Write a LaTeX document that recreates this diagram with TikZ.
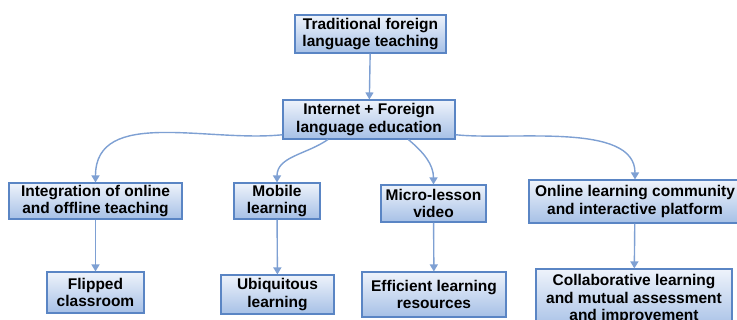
\documentclass[tikz,border=0pt]{standalone}
\usepackage{fontspec}
\setmainfont{Liberation Sans}
\usetikzlibrary{arrows.meta, shadows}

\definecolor{boxline}{HTML}{5A85C4}
\definecolor{boxtop}{HTML}{EEF3FB}
\definecolor{boxbot}{HTML}{A6C0E6}
\definecolor{link}{HTML}{7EA0D3}

\begin{document}
\begin{tikzpicture}[x=1pt, y=1pt, >={Triangle[width=8pt,length=7pt]},
  block/.style={draw=boxline, line width=1.1pt, top color=boxtop, bottom color=boxbot,
    align=center, inner sep=1pt, font=\fontsize{15.5}{17.5}\selectfont\bfseries,
    drop shadow={shadow xshift=1pt, shadow yshift=-1pt, opacity=0.25}},
  link/.style={draw=link, line width=1.4pt, ->}]
  \useasboundingbox (0,0) rectangle (737,320);
  \clip (0,0) rectangle (737,320);

  % Define blocks
  \node [block, minimum width=151pt, minimum height=38pt] (trad) at (370.5,286) {Traditional foreign\\language teaching};
  \node [block, minimum width=172pt, minimum height=39pt] (inet) at (369,200.5) {Internet + Foreign\\language education};

  \node [block, minimum width=173pt, minimum height=36pt] (integ) at (95.5,119) {Integration of online\\and offline teaching};
  \node [block, minimum width=86pt, minimum height=36pt] (mobile) at (277,119) {Mobile\\learning};
  \node [block, minimum width=105pt, minimum height=37pt] (micro) at (433.5,116.5) {Micro-lesson\\video};
  \node [block, minimum width=212pt, minimum height=43pt] (online) at (635,118.5) {Online learning community\\and interactive platform};

  \node [block, minimum width=97pt, minimum height=41pt] (flip) at (95.5,27.5) {Flipped\\classroom};
  \node [block, minimum width=113pt, minimum height=39pt] (ubiq) at (277.5,25.5) {Ubiquitous\\learning};
  \node [block, minimum width=144pt, minimum height=45pt] (effic) at (434,25.5) {Efficient learning\\resources};
  \node [block, minimum width=196pt, minimum height=60pt] (collab) at (634,21) {Collaborative learning\\and mutual assessment\\and improvement};

  % Connect blocks with arrows
  \draw [link] (trad) -- (inet);
  \draw [link] (inet.190) to[out=186, in=90] (integ.north);
  \draw [link] (inet.206) to[out=215, in=90] (mobile.north);
  \draw [link] (inet.333) to[out=-40, in=90] (micro.north);
  \draw [link] (inet.350) to[out=-6, in=90, looseness=0.8] (online.north);

  \draw [link] (integ) -- (flip);
  \draw [link] (mobile) -- (ubiq);
  \draw [link] (micro) -- (effic);
  \draw [link] (online) -- (collab);
\end{tikzpicture}
\end{document}
